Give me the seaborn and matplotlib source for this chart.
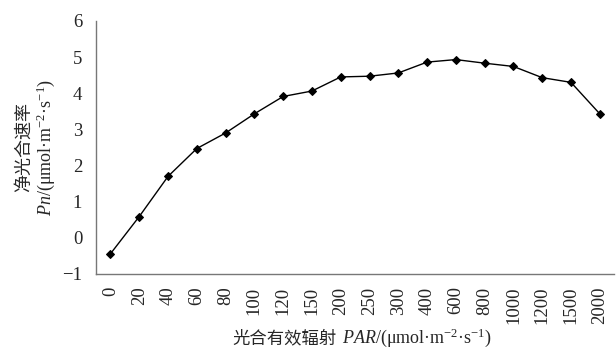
import numpy as np
import pandas as pd
import seaborn as sns
import matplotlib.pyplot as plt
from matplotlib.offsetbox import TextArea, HPacker, AnchoredOffsetbox

# PAR categories and net photosynthesis rate
par_labels = ["0", "20", "40", "60", "80", "100", "120", "150", "200", "250",
              "300", "400", "600", "800", "1000", "1200", "1500", "2000"]
pn_values = [-0.44, 0.59, 1.70, 2.47, 2.90, 3.43, 3.91, 4.06, 4.45, 4.47,
             4.56, 4.86, 4.93, 4.83, 4.74, 4.43, 4.30, 3.43]

df = pd.DataFrame({"pos": np.arange(len(par_labels)), "Pn": pn_values})

sns.set_style("white")
plt.rcParams["font.family"] = ["Liberation Serif", "Noto Sans CJK SC"]
plt.rcParams["mathtext.fontset"] = "custom"
plt.rcParams["mathtext.rm"] = "Liberation Serif"
plt.rcParams["mathtext.it"] = "Liberation Serif:italic"

fig = plt.figure(figsize=(6.16, 3.54), dpi=100)
ax = fig.add_axes([0.156, 0.226, 0.841, 0.715])

sns.lineplot(data=df, x="pos", y="Pn", ax=ax, color="black", linewidth=1.0,
             marker="D", markersize=4.5, markeredgecolor="black")

ax.set_xlim(-0.5, len(par_labels) - 0.5)
ax.set_ylim(-1, 6)
ax.set_yticks(range(-1, 7))
ax.set_yticklabels(["\u22121"] + [str(v) for v in range(0, 7)])
ax.set_xticks(df["pos"])
ax.set_xticklabels(par_labels, rotation=90, va="top")
ax.set_xticks(np.arange(-0.5, len(par_labels)), minor=True)
ax.tick_params(axis="x", which="major", length=0, pad=9, labelsize=13.5)
ax.tick_params(axis="x", which="minor", direction="in", length=4, color="#777777")
ax.tick_params(axis="y", direction="in", length=4, color="#777777", pad=10, labelsize=13.5)
ax.set_xlabel("")

for s in ["top", "right"]:
    ax.spines[s].set_visible(False)
for s in ["left", "bottom"]:
    ax.spines[s].set_color("#777777")
    ax.spines[s].set_linewidth(1.0)

# x label: Chinese part + italic/superscript part
t1 = TextArea("光合有效辐射", textprops=dict(fontsize=12.5, family=["Noto Sans CJK SC"]))
t2 = TextArea("$PAR$/(μmol·m$^{-2}$·s$^{-1}$)", textprops=dict(fontsize=13))
box = HPacker(children=[t1, t2], align="baseline", pad=0, sep=4)
xlab = AnchoredOffsetbox(loc="center", child=box, frameon=False,
                         bbox_to_anchor=(362 / 616, 1 - 338 / 354),
                         bbox_transform=fig.transFigure, borderpad=0, pad=0)
fig.add_artist(xlab)

ax.set_ylabel("净光合速率\n$Pn$/(μmol·m$^{-2}$·s$^{-1}$)", fontsize=13, labelpad=4,
              linespacing=1.1)

plt.savefig("out.png", dpi=100)
